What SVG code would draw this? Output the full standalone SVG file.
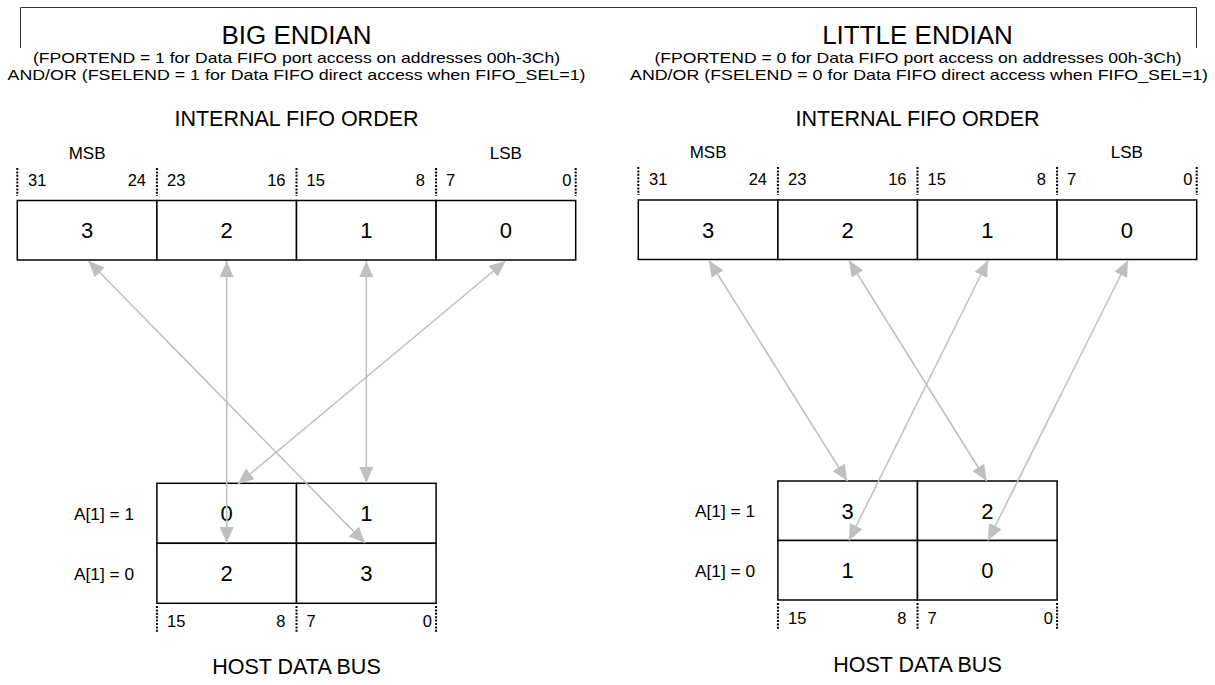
<svg xmlns="http://www.w3.org/2000/svg" width="1215" height="685" viewBox="0 0 1215 685">
<style>
text{font-family:"Liberation Sans",Arial,sans-serif;fill:#000}
.t1{font-size:26px;text-anchor:middle}
.t2{font-size:14.8px;text-anchor:middle}
.t3{font-size:21.5px;text-anchor:middle}
.lb{font-size:16.5px}
.al{font-size:17.3px;text-anchor:end}
.ms{font-size:17px;text-anchor:middle}
.end{text-anchor:end}
.dg{font-size:22px;text-anchor:middle}
.box{fill:#fff;stroke:#000;stroke-width:1.5}
.tick{stroke:#000;stroke-width:2;stroke-dasharray:2 1.4}
.arr{stroke:#bfbfbf;stroke-width:1.5;fill:none;marker-start:url(#ah);marker-end:url(#ah)}
.frame{stroke:#333;stroke-width:1;fill:none}
</style>
<defs>
<marker id="ah" markerUnits="userSpaceOnUse" markerWidth="17" markerHeight="14" refX="16" refY="7" orient="auto-start-reverse" viewBox="0 0 17 14">
<path d="M0,0 L16,7 L0,14 z" fill="#bfbfbf"/>
</marker>
</defs>
<rect width="1215" height="685" fill="#fff"/>
<path class="frame" d="M20.5,48 V7.5 H1196.5 V48"/>

<g id="big-endian-header">
<text class="t1" x="296.5" y="44.3">BIG ENDIAN</text>
<text class="t2" x="296.5" y="63.3" textLength="527" lengthAdjust="spacingAndGlyphs">(FPORTEND = 1 for Data FIFO port access on addresses 00h-3Ch)</text>
<text class="t2" x="296.5" y="79.8" textLength="578" lengthAdjust="spacingAndGlyphs">AND/OR (FSELEND = 1 for Data FIFO direct access when FIFO_SEL=1)</text>
<text class="t3" x="296.5" y="126">INTERNAL FIFO ORDER</text>
</g>
<g id="little-endian-header">
<text class="t1" x="917.5" y="44.3">LITTLE ENDIAN</text>
<text class="t2" x="918" y="63.3" textLength="527" lengthAdjust="spacingAndGlyphs">(FPORTEND = 0 for Data FIFO port access on addresses 00h-3Ch)</text>
<text class="t2" x="919" y="79.8" textLength="578" lengthAdjust="spacingAndGlyphs">AND/OR (FSELEND = 0 for Data FIFO direct access when FIFO_SEL=1)</text>
<text class="t3" x="917.5" y="126">INTERNAL FIFO ORDER</text>
</g>

<g id="big-fifo">
<rect class="box" x="17.3" y="200.5" width="139.6" height="59.5"/>
<rect class="box" x="156.9" y="200.5" width="139.6" height="59.5"/>
<rect class="box" x="296.5" y="200.5" width="139.6" height="59.5"/>
<rect class="box" x="436.1" y="200.5" width="139.6" height="59.5"/>
<text class="dg" x="87.1" y="238">3</text>
<text class="dg" x="226.7" y="238">2</text>
<text class="dg" x="366.3" y="238">1</text>
<text class="dg" x="505.9" y="238">0</text>
<path class="tick" d="M17.3,168V196M156.9,168V196M296.5,168V196M436.1,168V196M575.7,168V196"/>
<text class="ms" x="87.1" y="159">MSB</text>
<text class="ms" x="505.9" y="159">LSB</text>
<text class="lb" x="28" y="186">31</text>
<text class="lb end" x="146" y="186">24</text>
<text class="lb" x="167" y="186">23</text>
<text class="lb end" x="285.5" y="186">16</text>
<text class="lb" x="306.5" y="186">15</text>
<text class="lb end" x="425" y="186">8</text>
<text class="lb" x="446" y="186">7</text>
<text class="lb end" x="571.5" y="186">0</text>
</g>

<g id="big-host">
<rect class="box" x="156.9" y="483.3" width="139.6" height="60"/>
<rect class="box" x="296.5" y="483.3" width="139.6" height="60"/>
<rect class="box" x="156.9" y="543.3" width="139.6" height="60"/>
<rect class="box" x="296.5" y="543.3" width="139.6" height="60"/>
<text class="dg" x="226.7" y="521">0</text>
<text class="dg" x="366.3" y="521">1</text>
<text class="dg" x="226.7" y="581">2</text>
<text class="dg" x="366.3" y="581">3</text>
<text class="al" x="134" y="519.5">A[1] = 1</text>
<text class="al" x="134" y="579.5">A[1] = 0</text>
<path class="tick" d="M156.9,606V633M296.5,606V633M436.1,606V633"/>
<text class="lb" x="167" y="627">15</text>
<text class="lb end" x="285.5" y="627">8</text>
<text class="lb" x="306.5" y="627">7</text>
<text class="lb end" x="432" y="627">0</text>
<text class="t3" x="296.5" y="674">HOST DATA BUS</text>
</g>

<g id="little-fifo">
<rect class="box" x="638.3" y="200" width="139.6" height="59.5"/>
<rect class="box" x="777.9" y="200" width="139.6" height="59.5"/>
<rect class="box" x="917.5" y="200" width="139.6" height="59.5"/>
<rect class="box" x="1057.1" y="200" width="139.6" height="59.5"/>
<text class="dg" x="708.1" y="237.5">3</text>
<text class="dg" x="847.7" y="237.5">2</text>
<text class="dg" x="987.3" y="237.5">1</text>
<text class="dg" x="1126.9" y="237.5">0</text>
<path class="tick" d="M638.3,167V195M777.9,167V195M917.5,167V195M1057.1,167V195M1196.7,167V195"/>
<text class="ms" x="708.1" y="158">MSB</text>
<text class="ms" x="1126.9" y="158">LSB</text>
<text class="lb" x="649" y="185">31</text>
<text class="lb end" x="767" y="185">24</text>
<text class="lb" x="788" y="185">23</text>
<text class="lb end" x="906.5" y="185">16</text>
<text class="lb" x="927.5" y="185">15</text>
<text class="lb end" x="1046" y="185">8</text>
<text class="lb" x="1067" y="185">7</text>
<text class="lb end" x="1192.5" y="185">0</text>
</g>

<g id="little-host">
<rect class="box" x="777.9" y="481" width="139.6" height="59.5"/>
<rect class="box" x="917.5" y="481" width="139.6" height="59.5"/>
<rect class="box" x="777.9" y="540.5" width="139.6" height="59.5"/>
<rect class="box" x="917.5" y="540.5" width="139.6" height="59.5"/>
<text class="dg" x="847.7" y="518.5">3</text>
<text class="dg" x="987.3" y="518.5">2</text>
<text class="dg" x="847.7" y="578">1</text>
<text class="dg" x="987.3" y="578">0</text>
<text class="al" x="755" y="517">A[1] = 1</text>
<text class="al" x="755" y="576.5">A[1] = 0</text>
<path class="tick" d="M777.9,603V630M917.5,603V630M1057.1,603V630"/>
<text class="lb" x="788" y="624">15</text>
<text class="lb end" x="906.5" y="624">8</text>
<text class="lb" x="927.5" y="624">7</text>
<text class="lb end" x="1053" y="624">0</text>
<text class="t3" x="917.5" y="672">HOST DATA BUS</text>
</g>

<g id="connectors">
<line class="arr" x1="88.5" y1="261" x2="365" y2="543"/>
<line class="arr" x1="226.7" y1="261" x2="226.7" y2="543"/>
<line class="arr" x1="366.3" y1="261" x2="366.3" y2="483"/>
<line class="arr" x1="505.5" y1="261" x2="238" y2="484"/>
<line class="arr" x1="709" y1="260.5" x2="847.3" y2="481"/>
<line class="arr" x1="849" y1="260.5" x2="986.7" y2="481"/>
<line class="arr" x1="988" y1="260.5" x2="849" y2="540.5"/>
<line class="arr" x1="1128" y1="260.5" x2="988" y2="540.5"/>
</g>
</svg>
